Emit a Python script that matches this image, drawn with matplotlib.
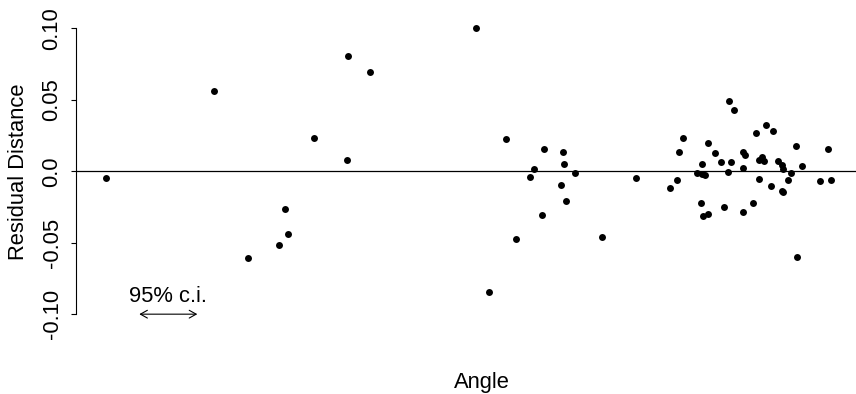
import matplotlib
matplotlib.use("Agg")
import matplotlib.pyplot as plt

# residuals vs angle (x has no printed scale, kept in plot units)
angle = [106, 214.3, 247.7, 279.3, 285.3, 287.7, 313.7, 346.7, 347.7, 370,
         476.3, 488.7, 506, 516.3, 529.7, 533.7, 542.3, 544.3, 561, 563.3,
         564, 566, 575.2, 602, 635.5,
         728.7, 733.7, 766, 773, 755.5, 683.3, 708, 796, 828.3, 679.3,
         715, 743.3, 744.7, 762.3, 758.7, 764, 778.3, 720.7, 731, 702,
         782, 783.3, 802.3, 743.3, 697, 702, 705, 728, 791.3, 676.5,
         759.3, 787.7, 820.3, 831.3, 669.8, 771.2, 781.7, 783.3, 701.2, 724.2,
         753.3, 742.5, 702.7, 707.7, 797.3, 859]
residual = [-0.0049, 0.0562, -0.0609, -0.0514, -0.0266, -0.0439, 0.0233, 0.0077, 0.0807, 0.0693,
            0.1003, -0.0843, 0.0226, -0.0472, -0.0040, 0.0016, -0.0304, 0.0154, -0.0096, 0.0132,
            0.0048, -0.0208, -0.0015, -0.0459, -0.0045,
            0.0494, 0.0427, 0.0326, 0.0284, 0.0267, 0.0233, 0.0197, 0.0175, 0.0158, 0.0137,
            0.0128, 0.0133, 0.0112, 0.0102, 0.0077, 0.0072, 0.0072, 0.0065, 0.0065, 0.0053,
            0.0044, 0.0018, 0.0034, 0.0025, -0.0015, -0.0019, -0.0026, -0.0006, -0.0013, -0.0060,
            -0.0055, -0.0059, -0.0070, -0.0063, -0.0117, -0.0103, -0.0136, -0.0147, -0.0224, -0.0250,
            -0.0220, -0.0285, -0.0313, -0.0301, -0.0602, -0.0117]

# 95% confidence interval width, drawn as a double arrow
ci_left, ci_right = 139.3, 197.3
ci_label = "95% c.i."

yticks = [-0.10, -0.05, 0.0, 0.05, 0.10]
ytick_labels = ["-0.10", "-0.05", "0.0", "0.05", "0.10"]

plt.rcParams['font.family'] = ['Liberation Sans', 'DejaVu Sans']
fs = 15.8

W, H = 856, 394
fig = plt.figure(figsize=(W / 100, H / 100), dpi=100)
# plot region runs past the right edge like the source
ax = fig.add_axes([76 / W, (H - 325.6) / H, (888 - 76) / W, (325.6 - 17) / H])

ax.plot(angle, residual, 'o', color='black', markersize=5, markeredgewidth=0)
ax.axhline(0, color='black', lw=0.9)

ax.annotate('', xy=(ci_left, -0.10), xytext=(ci_right, -0.10),
            arrowprops=dict(arrowstyle='<->,head_length=0.5,head_width=0.28',
                            color='black', lw=0.8, shrinkA=0, shrinkB=0,
                            mutation_scale=10))
ax.text((ci_left + ci_right) / 2, -0.0913, ci_label, ha='center', va='baseline', fontsize=fs)

ax.set_xlim(76, 888)
ax.set_ylim(-0.108, 0.108)
ax.set_xticks([])
ax.set_yticks(yticks)
ax.set_yticklabels(ytick_labels, rotation=90, va='center', ha='center', fontsize=fs)
ax.tick_params(axis='y', length=3.5, width=0.8, pad=13.7)

for s in ['top', 'right', 'bottom']:
    ax.spines[s].set_visible(False)
ax.spines['left'].set_bounds(-0.10, 0.10)
ax.spines['left'].set_linewidth(0.8)
ax.patch.set_visible(False)

fig.text(18.4 / W, (H - 171.3) / H, "Residual Distance", rotation=90,
         ha='center', va='center', fontsize=fs)
fig.text(482 / W, (H - 388) / H, "Angle", ha='center', va='baseline', fontsize=fs)

fig.savefig("out.png", dpi=100)
